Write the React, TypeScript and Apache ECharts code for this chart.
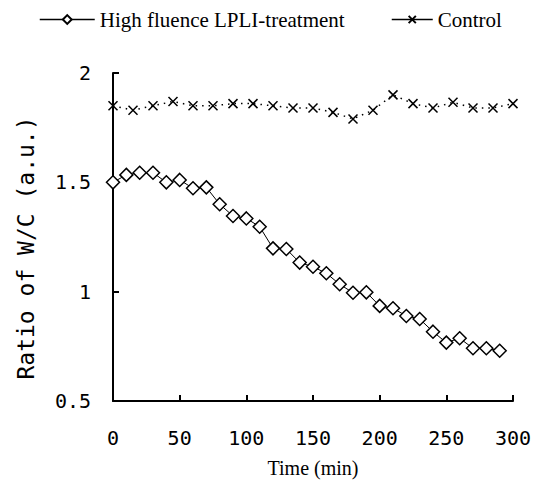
import React, { useEffect, useRef } from "react";
import * as echarts from "echarts";

const treatmentTimes = [0, 10, 20, 30, 40, 50, 60, 70, 80, 90, 100, 110, 120, 130, 140, 150, 160, 170, 180, 190, 200, 210, 220, 230, 240, 250, 260, 270, 280, 290];
const treatmentValues = [1.5, 1.534, 1.544, 1.544, 1.5, 1.511, 1.473, 1.477, 1.4, 1.346, 1.335, 1.297, 1.198, 1.195, 1.133, 1.114, 1.084, 1.034, 0.995, 0.997, 0.935, 0.924, 0.889, 0.875, 0.817, 0.767, 0.787, 0.741, 0.741, 0.73];

const controlTimes = [0, 15, 30, 45, 60, 75, 90, 105, 120, 135, 150, 165, 180, 195, 210, 225, 240, 255, 270, 285, 300];
const controlValues = [1.85, 1.83, 1.85, 1.87, 1.85, 1.85, 1.86, 1.86, 1.85, 1.84, 1.84, 1.82, 1.79, 1.83, 1.9, 1.86, 1.84, 1.866, 1.84, 1.84, 1.86];

const seriesNames = ["High fluence LPLI-treatment", "Control"];
const xTitle = "Time (min)";
const yTitle = "Ratio of W/C (a.u.)";

const crossPath = "path://M0,0L10,10M10,0L0,10";

export default function App() {
  const ref = useRef<HTMLDivElement>(null);
  useEffect(() => {
    if (!ref.current) return;
    const chart = echarts.init(ref.current, null, { renderer: "svg" });
    const mono = "DejaVu Sans Mono";
    const serif = "Liberation Serif";
    const legendText = { fontFamily: serif, fontSize: 21, color: "#000" };
    chart.setOption({
      animation: false,
      backgroundColor: "#ffffff",
      legend: [
        {
          top: 4,
          left: 34,
          itemWidth: 55,
          itemHeight: 11,
          textStyle: legendText,
          lineStyle: { type: "solid", width: 1.5 },
          data: [seriesNames[0]],
        },
        {
          top: 4,
          left: 386,
          itemWidth: 41,
          itemHeight: 9,
          textStyle: legendText,
          lineStyle: { type: "solid", width: 1.5 },
          data: [seriesNames[1]],
        },
      ],
      grid: { left: 113, right: 27, top: 73, bottom: 93, containLabel: false },
      xAxis: {
        type: "value",
        min: 0,
        max: 300,
        interval: 50,
        name: xTitle,
        nameLocation: "middle",
        nameGap: 57,
        nameTextStyle: { fontFamily: serif, fontSize: 20, color: "#000" },
        axisLine: { lineStyle: { color: "#000", width: 2 } },
        axisTick: { inside: true, length: 6, lineStyle: { color: "#000", width: 2 } },
        axisLabel: { fontFamily: mono, fontSize: 20, color: "#000", margin: 27 },
        splitLine: { show: false },
      },
      yAxis: {
        type: "value",
        min: 0.5,
        max: 2,
        interval: 0.5,
        name: yTitle,
        nameLocation: "middle",
        nameRotate: 90,
        nameGap: 76,
        nameTextStyle: { fontFamily: mono, fontSize: 23, color: "#000", padding: [0, 22, 0, 0] },
        axisLine: { lineStyle: { color: "#000", width: 2 } },
        axisTick: { inside: true, length: 6, lineStyle: { color: "#000", width: 2 } },
        axisLabel: { fontFamily: mono, fontSize: 20, color: "#000", margin: 22 },
        splitLine: { show: false },
      },
      series: [
        {
          name: seriesNames[0],
          type: "line",
          data: treatmentTimes.map((t, i) => [t, treatmentValues[i]]),
          symbol: "diamond",
          symbolSize: 13,
          showAllSymbol: true,
          lineStyle: { color: "#000", width: 1 },
          itemStyle: { color: "#fff", borderColor: "#000", borderWidth: 1.5 },
        },
        {
          name: seriesNames[1],
          type: "line",
          data: controlTimes.map((t, i) => [t, controlValues[i]]),
          symbol: crossPath,
          symbolSize: 9,
          showAllSymbol: true,
          lineStyle: { color: "#000", width: 1.5, type: [1.5, 5] },
          itemStyle: { color: "#000", borderColor: "#000", borderWidth: 1.5 },
        },
      ],
    });
    return () => chart.dispose();
  }, []);
  return <div ref={ref} style={{ position: "fixed", left: 0, top: 0, width: 540, height: 494 }} />;
}
